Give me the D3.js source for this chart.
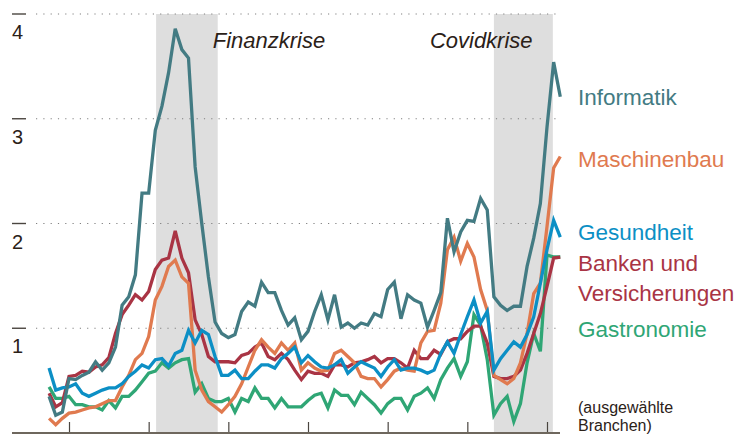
<!DOCTYPE html>
<html>
<head>
<meta charset="utf-8">
<script src="https://cdn.jsdelivr.net/npm/d3@7"></script>
<style>
  body { margin: 0; background: #fff; }
  text { font-family: "Liberation Sans", Arial, sans-serif; }
</style>
</head>
<body>
<svg id="chart" width="741" height="434"></svg>
<script>
// quarterly values, 2003 Q2 .. 2022 Q3
const quarters = d3.range(78).map(i => 2003.25 + i * 0.25);

const informatik = [0.35,0.17,0.20,0.52,0.51,0.55,0.58,0.68,0.60,0.67,
  0.82,1.22,1.30,1.51,2.29,2.29,2.89,3.12,3.44,3.86,
  3.66,3.58,2.54,2.00,1.49,1.06,0.95,0.91,0.94,1.16,
  1.25,1.21,1.44,1.34,1.34,1.17,1.03,1.10,0.89,0.97,
  1.16,1.32,1.08,1.32,1.01,1.05,1.00,1.05,1.03,1.14,
  1.11,1.37,1.44,1.09,1.32,1.27,1.24,1.01,1.17,1.34,
  2.05,1.73,1.92,2.03,2.02,2.24,2.13,1.30,1.22,1.17,
  1.21,1.21,1.59,1.86,2.19,2.92,3.54,3.21];

const maschinenbau = [0.14,0.08,0.14,0.19,0.20,0.22,0.24,0.25,0.28,0.31,
  0.31,0.44,0.55,0.70,0.76,0.92,1.27,1.40,1.59,1.65,
  1.49,1.43,0.60,0.41,0.30,0.25,0.20,0.27,0.35,0.47,
  0.63,0.79,0.89,0.82,0.76,0.86,0.79,0.86,0.60,0.67,
  0.62,0.59,0.60,0.76,0.79,0.73,0.67,0.54,0.52,0.52,
  0.44,0.51,0.59,0.62,0.60,0.59,0.86,0.97,0.98,1.24,
  1.75,1.87,1.64,1.81,1.68,1.37,1.17,0.55,0.51,0.47,
  0.52,0.67,0.95,1.33,1.43,1.97,2.53,2.64];

const gesundheit = [0.62,0.41,0.43,0.44,0.47,0.38,0.35,0.38,0.41,0.43,
  0.43,0.47,0.54,0.59,0.65,0.62,0.70,0.71,0.64,0.76,
  0.79,0.98,0.86,0.98,0.94,0.73,0.55,0.55,0.60,0.52,
  0.52,0.59,0.65,0.65,0.62,0.71,0.76,0.82,0.67,0.74,
  0.68,0.63,0.62,0.65,0.70,0.57,0.63,0.68,0.65,0.62,
  0.54,0.63,0.70,0.60,0.62,0.62,0.60,0.57,0.60,0.76,
  0.87,0.76,0.94,1.11,1.27,1.05,1.16,0.60,0.71,0.79,
  0.87,0.82,0.94,1.11,1.43,1.75,2.03,1.87];

const banken = [0.38,0.25,0.29,0.54,0.55,0.59,0.58,0.63,0.65,0.72,
  0.95,1.13,1.22,1.32,1.27,1.35,1.56,1.65,1.67,1.93,
  1.67,1.53,1.08,0.94,0.73,0.68,0.68,0.68,0.67,0.74,
  0.76,0.82,0.86,0.73,0.70,0.76,0.70,0.60,0.51,0.59,
  0.57,0.57,0.54,0.65,0.65,0.63,0.67,0.68,0.70,0.73,
  0.67,0.71,0.71,0.67,0.62,0.79,0.71,0.71,0.79,0.75,
  0.87,0.90,0.90,0.97,1.02,1.02,0.86,0.54,0.52,0.52,
  0.54,0.60,0.76,0.95,1.14,1.40,1.67,1.68];

const gastronomie = [0.44,0.33,0.33,0.35,0.27,0.27,0.25,0.25,0.22,0.31,
  0.24,0.35,0.35,0.41,0.49,0.57,0.59,0.67,0.62,0.67,
  0.70,0.71,0.39,0.47,0.33,0.30,0.30,0.33,0.20,0.33,
  0.30,0.43,0.33,0.33,0.24,0.33,0.25,0.25,0.25,0.31,
  0.36,0.38,0.24,0.41,0.36,0.36,0.27,0.39,0.33,0.27,
  0.19,0.28,0.33,0.33,0.22,0.35,0.38,0.43,0.33,0.51,
  0.62,0.71,0.54,0.68,1.13,1.03,0.70,0.17,0.28,0.35,
  0.11,0.28,0.67,0.95,0.78,1.70,1.68,1.68];

const yTicks = [1, 2, 3, 4];
const xTicks = [2004, 2007, 2010, 2013, 2016, 2019, 2022];
const crises = [
  { name: 'Finanzkrise', from: 2007.28, to: 2009.6 },
  { name: 'Covidkrise', from: 2020.0, to: 2022.22 }
];

const series = [
  { name: ['Gastronomie'], values: gastronomie, color: '#2fa675', labelY: 337 },
  { name: ['Banken und', 'Versicherungen'], values: banken, color: '#a93444', labelY: 271 },
  { name: ['Maschinenbau'], values: maschinenbau, color: '#e07a4f', labelY: 167 },
  { name: ['Gesundheit'], values: gesundheit, color: '#0c8fc5', labelY: 240 },
  { name: ['Informatik'], values: informatik, color: '#437b83', labelY: 105 }
];

const svg = d3.select('#chart');

const x = d3.scaleLinear().domain([2004, 2022]).range([69, 547]);
const y = d3.scaleLinear().domain([0, 4]).range([433, 14]);

// crisis shading
svg.append('g')
  .selectAll('rect')
  .data(crises)
  .enter()
  .append('rect')
  .attr('x', d => x(d.from))
  .attr('width', d => x(d.to) - x(d.from))
  .attr('y', y(4))
  .attr('height', y(0) - y(4))
  .attr('fill', '#dedede');

// grid
const grid = svg.append('g');
grid.selectAll('line.dot')
  .data(yTicks)
  .enter()
  .append('line')
  .attr('class', 'dot')
  .attr('x1', 36).attr('x2', 560)
  .attr('y1', d => y(d)).attr('y2', d => y(d))
  .attr('stroke', '#808080')
  .attr('stroke-width', 1.2)
  .attr('stroke-dasharray', '1.2,6.1');

grid.selectAll('line.dash')
  .data(yTicks)
  .enter()
  .append('line')
  .attr('class', 'dash')
  .attr('x1', 12).attr('x2', 26)
  .attr('y1', d => y(d)).attr('y2', d => y(d))
  .attr('stroke', '#4a4540')
  .attr('stroke-width', 1.4);

grid.selectAll('text')
  .data(yTicks)
  .enter()
  .append('text')
  .attr('x', 12)
  .attr('y', d => y(d) + 25)
  .attr('font-size', 20)
  .attr('fill', '#2b2118')
  .text(d => d);

// x axis (ticks inside, labels fall below the picture)
const xAxis = d3.axisTop(x)
  .tickValues(xTicks)
  .tickSize(11)
  .tickFormat('');

const axisG = svg.append('g')
  .attr('transform', `translate(0,${y(0)})`)
  .call(xAxis);
axisG.select('.domain').remove();
axisG.selectAll('.tick line')
  .attr('stroke', '#4a4540')
  .attr('stroke-width', 1.2);

svg.append('line')
  .attr('x1', 12).attr('x2', 560)
  .attr('y1', y(0)).attr('y2', y(0))
  .attr('stroke', '#6e675d')
  .attr('stroke-width', 2.2);

// crisis labels
svg.selectAll('text.crisis')
  .data(crises)
  .enter()
  .append('text')
  .attr('class', 'crisis')
  .attr('x', (d, i) => i === 0 ? x(d.to) - 5 : x(d.from) - 64)
  .attr('y', 48)
  .attr('font-size', 22)
  .attr('font-style', 'italic')
  .attr('fill', '#2b2118')
  .text(d => d.name);

// lines
const line = d3.line()
  .x((d, i) => x(quarters[i]))
  .y(d => y(d));

svg.append('g')
  .selectAll('path')
  .data(series)
  .enter()
  .append('path')
  .attr('d', d => line(d.values))
  .attr('fill', 'none')
  .attr('stroke', d => d.color)
  .attr('stroke-width', 3.3)
  .attr('stroke-linejoin', 'miter');

// labels
const labels = svg.append('g')
  .selectAll('text')
  .data(series)
  .enter()
  .append('text')
  .attr('x', 578)
  .attr('y', d => d.labelY)
  .attr('font-size', 22.5)
  .attr('fill', d => d.color);

labels.selectAll('tspan')
  .data(d => d.name)
  .enter()
  .append('tspan')
  .attr('x', 578)
  .attr('dy', (d, i) => i === 0 ? 0 : 30)
  .text(d => d);

svg.append('text')
  .attr('x', 578)
  .attr('y', 413)
  .attr('font-size', 16)
  .attr('fill', '#2b2118')
  .text('(ausgewählte');
svg.append('text')
  .attr('x', 578)
  .attr('y', 431)
  .attr('font-size', 16)
  .attr('fill', '#2b2118')
  .text('Branchen)');
</script>
</body>
</html>
